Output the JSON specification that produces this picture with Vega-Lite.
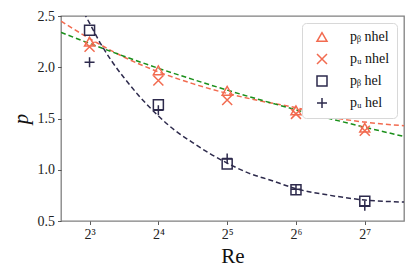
{
  "$schema": "https://vega.github.io/schema/vega-lite/v6.json",
  "width": 343,
  "height": 205,
  "autosize": "none",
  "padding": {"left": 61, "top": 16, "right": 11, "bottom": 56},
  "background": "white",
  "config": {
    "view": {"stroke": "#808080", "strokeWidth": 1.3},
    "font": "Liberation Serif",
    "axis": {
      "domain": false,
      "grid": false,
      "tickColor": "#333333",
      "tickSize": 3.5,
      "tickWidth": 0.8,
      "labelFont": "Liberation Serif",
      "labelFontSize": 14,
      "labelColor": "#222222",
      "titleFont": "Liberation Serif",
      "titleFontWeight": "normal",
      "titleColor": "#111111"
    }
  },
  "datasets": {
    "points": [
      {"Re": 8, "p": 2.25, "series": "pᵦ nhel"},
      {"Re": 16, "p": 1.97, "series": "pᵦ nhel"},
      {"Re": 32, "p": 1.77, "series": "pᵦ nhel"},
      {"Re": 64, "p": 1.58, "series": "pᵦ nhel"},
      {"Re": 128, "p": 1.41, "series": "pᵦ nhel"},
      {"Re": 8, "p": 2.2, "series": "pᵤ nhel"},
      {"Re": 16, "p": 1.87, "series": "pᵤ nhel"},
      {"Re": 32, "p": 1.68, "series": "pᵤ nhel"},
      {"Re": 64, "p": 1.545, "series": "pᵤ nhel"},
      {"Re": 128, "p": 1.38, "series": "pᵤ nhel"},
      {"Re": 8, "p": 2.36, "series": "pᵦ hel"},
      {"Re": 16, "p": 1.635, "series": "pᵦ hel"},
      {"Re": 32, "p": 1.055, "series": "pᵦ hel"},
      {"Re": 64, "p": 0.805, "series": "pᵦ hel"},
      {"Re": 128, "p": 0.693, "series": "pᵦ hel"},
      {"Re": 8, "p": 2.05, "series": "pᵤ hel"},
      {"Re": 16, "p": 1.58, "series": "pᵤ hel"},
      {"Re": 32, "p": 1.11, "series": "pᵤ hel"},
      {"Re": 64, "p": 0.81, "series": "pᵤ hel"},
      {"Re": 128, "p": 0.65, "series": "pᵤ hel"}
    ],
    "fits": [
      {"Re": 6, "p": 2.34, "fit": "green"},
      {"Re": 8, "p": 2.232, "fit": "green"},
      {"Re": 11.3, "p": 2.108, "fit": "green"},
      {"Re": 16, "p": 1.99, "fit": "green"},
      {"Re": 22.6, "p": 1.882, "fit": "green"},
      {"Re": 32, "p": 1.777, "fit": "green"},
      {"Re": 45, "p": 1.68, "fit": "green"},
      {"Re": 64, "p": 1.585, "fit": "green"},
      {"Re": 90.5, "p": 1.498, "fit": "green"},
      {"Re": 128, "p": 1.415, "fit": "green"},
      {"Re": 190, "p": 1.325, "fit": "green"},
      {"Re": 6, "p": 2.45, "fit": "orange"},
      {"Re": 8, "p": 2.28, "fit": "orange"},
      {"Re": 11.3, "p": 2.1, "fit": "orange"},
      {"Re": 16, "p": 1.955, "fit": "orange"},
      {"Re": 22.6, "p": 1.84, "fit": "orange"},
      {"Re": 32, "p": 1.745, "fit": "orange"},
      {"Re": 45, "p": 1.67, "fit": "orange"},
      {"Re": 64, "p": 1.605, "fit": "orange"},
      {"Re": 90.5, "p": 1.515, "fit": "orange"},
      {"Re": 128, "p": 1.465, "fit": "orange"},
      {"Re": 190, "p": 1.43, "fit": "orange"},
      {"Re": 6, "p": 3.03, "fit": "navy"},
      {"Re": 7, "p": 2.68, "fit": "navy"},
      {"Re": 8, "p": 2.43, "fit": "navy"},
      {"Re": 9, "p": 2.22, "fit": "navy"},
      {"Re": 10, "p": 2.06, "fit": "navy"},
      {"Re": 11.3, "p": 1.9, "fit": "navy"},
      {"Re": 13, "p": 1.735, "fit": "navy"},
      {"Re": 16, "p": 1.525, "fit": "navy"},
      {"Re": 19, "p": 1.38, "fit": "navy"},
      {"Re": 22.6, "p": 1.265, "fit": "navy"},
      {"Re": 27, "p": 1.155, "fit": "navy"},
      {"Re": 32, "p": 1.065, "fit": "navy"},
      {"Re": 40, "p": 0.965, "fit": "navy"},
      {"Re": 50, "p": 0.895, "fit": "navy"},
      {"Re": 64, "p": 0.815, "fit": "navy"},
      {"Re": 90.5, "p": 0.75, "fit": "navy"},
      {"Re": 128, "p": 0.705, "fit": "navy"},
      {"Re": 190, "p": 0.685, "fit": "navy"}
    ]
  },
  "encoding": {
    "x": {
      "field": "Re", "type": "quantitative",
      "scale": {"type": "log", "base": 2, "domain": [6, 190], "nice": false, "zero": false},
      "axis": {
        "values": [8, 16, 32, 64, 128],
        "labelExpr": "datum.value == 8 ? '2³' : datum.value == 16 ? '2⁴' : datum.value == 32 ? '2⁵' : datum.value == 64 ? '2⁶' : '2⁷'",
        "labelPadding": 3,
        "title": "Re",
        "titleFontSize": 21,
        "titlePadding": 4
      }
    },
    "y": {
      "field": "p", "type": "quantitative",
      "scale": {"domain": [0.5, 2.5], "nice": false, "zero": false},
      "axis": {
        "values": [0.5, 1, 1.5, 2, 2.5],
        "format": ".1f",
        "labelPadding": 3,
        "title": "p",
        "titleFontStyle": "italic",
        "titleFontSize": 21,
        "titlePadding": 6
      }
    }
  },
  "layer": [
    {
      "mark": {"type": "rule", "color": "#999999", "strokeDash": [5, 3], "strokeWidth": 1.3},
      "encoding": {"y": {"datum": 1}, "x": null}
    },
    {
      "data": {"name": "fits"},
      "transform": [{"filter": "datum.fit == 'orange'"}],
      "mark": {"type": "line", "color": "#f26b50", "strokeDash": [5, 3], "strokeWidth": 1.5, "interpolate": "monotone", "clip": true}
    },
    {
      "data": {"name": "fits"},
      "transform": [{"filter": "datum.fit == 'green'"}],
      "mark": {"type": "line", "color": "#1a8f1a", "strokeDash": [5, 3], "strokeWidth": 1.5, "interpolate": "monotone", "clip": true}
    },
    {
      "data": {"name": "fits"},
      "transform": [{"filter": "datum.fit == 'navy'"}],
      "mark": {"type": "line", "color": "#2d2a4c", "strokeDash": [5, 3], "strokeWidth": 1.5, "interpolate": "monotone", "clip": true}
    },
    {
      "data": {"name": "points"},
      "mark": {"type": "point", "filled": false, "size": 100, "strokeWidth": 1.5, "opacity": 1},
      "encoding": {
        "color": {
          "field": "series", "type": "nominal",
          "scale": {"domain": ["pᵦ nhel", "pᵤ nhel", "pᵦ hel", "pᵤ hel"], "range": ["#f26b50", "#f26b50", "#2d2a4c", "#2d2a4c"]},
          "legend": {
            "title": null,
            "orient": "none",
            "legendX": 241,
            "legendY": 7,
            "padding": 7,
            "fillColor": "white",
            "strokeColor": "#d8d8d8",
            "cornerRadius": 4,
            "labelFont": "Liberation Serif",
            "labelFontSize": 14,
            "labelColor": "#111111",
            "labelOffset": 21,
            "symbolOffset": 6,
            "symbolSize": 100,
            "symbolStrokeWidth": 1.5,
            "rowPadding": 6
          }
        },
        "shape": {
          "field": "series", "type": "nominal",
          "scale": {"domain": ["pᵦ nhel", "pᵤ nhel", "pᵦ hel", "pᵤ hel"], "range": ["triangle-up", "M-1,-1L1,1M-1,1L1,-1", "square", "M-1,0L1,0M0,-1L0,1"]}
        }
      }
    }
  ]
}
